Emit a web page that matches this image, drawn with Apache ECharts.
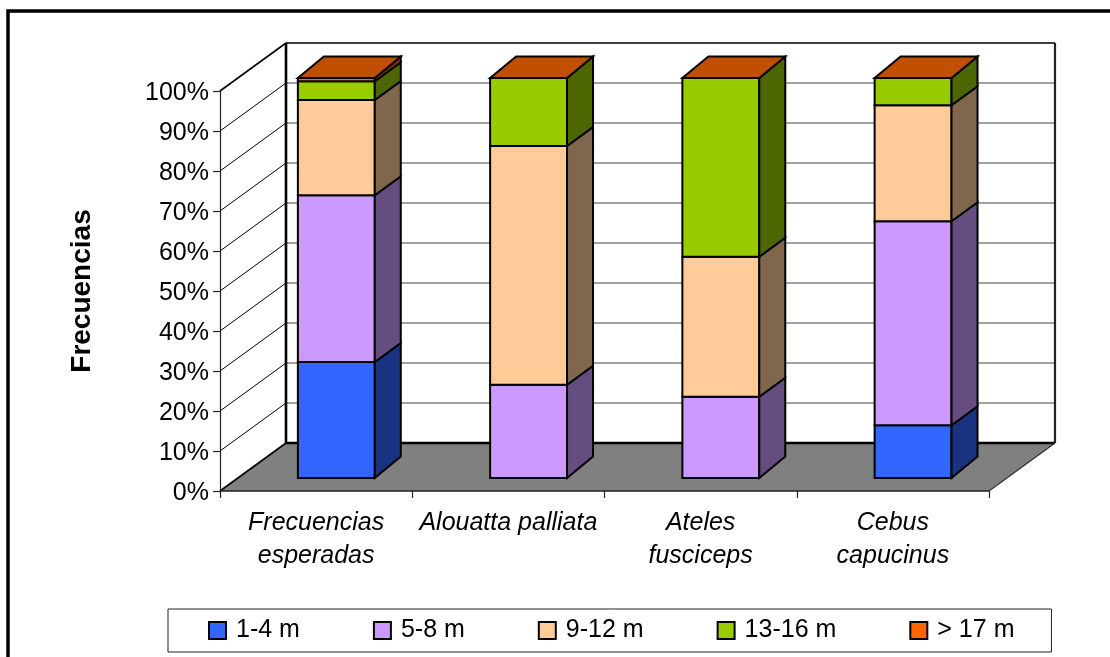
<!DOCTYPE html>
<html>
<head>
<meta charset="utf-8">
<style>html,body{margin:0;padding:0;background:#fff;overflow:hidden}#c{width:1110px;height:657px}</style>
<script src="https://cdn.jsdelivr.net/npm/echarts@6/dist/echarts.min.js"></script>
</head>
<body>
<div id="c"></div>
<script>
var categories = ['Frecuencias\nesperadas', 'Alouatta palliata', 'Ateles\nfusciceps', 'Cebus\ncapucinus'];
var yTicks = [0, 10, 20, 30, 40, 50, 60, 70, 80, 90, 100];
var seriesNames = ['1-4 m', '5-8 m', '9-12 m', '13-16 m', '> 17 m'];
var s1to4 = [29, 0, 0, 13.2];
var s5to8 = [41.7, 23.3, 20.3, 51];
var s9to12 = [23.8, 59.7, 35, 29];
var s13to16 = [4.7, 17, 44.7, 6.8];
var s17plus = [0.8, 0, 0, 0];
var frontColors = ['#3366FF', '#CC99FF', '#FFCC99', '#99CC00', '#FF6600'];
var sideColors = ['#1A3380', '#664D80', '#80664D', '#4D6600', '#803300'];
var topColor = '#C05000';

var WALL = [66, -48], BAR = [20.2, -13], DEPTH_X = 26, DEPTH_OUTER = -21.5, DEPTH_INNER = -19;
var allValues = [s1to4, s5to8, s9to12, s13to16, s17plus];

function poly(points, fill, stroke, lw) {
  return { type: 'polygon', shape: { points: points },
    style: { fill: fill, stroke: stroke || '#000', lineWidth: lw == null ? 2 : lw, lineJoin: 'miter' } };
}
function line(a, b, color, lw) {
  return { type: 'line', shape: { x1: a[0], y1: a[1], x2: b[0], y2: b[1] },
    style: { stroke: color, lineWidth: lw, fill: null } };
}
function shift(p, d) { return [p[0] + d[0], p[1] + d[1]]; }

function renderWalls(params, api) {
  var v = api.value(0);
  var band = api.size([1, 0])[0];
  var L = api.coord([0, v]); L = [L[0] - band / 2, L[1]];
  var R = api.coord([categories.length - 1, v]); R = [R[0] + band / 2, R[1]];
  var kids = [];
  var bl = shift(L, WALL), br = shift(R, WALL);
  if (v === 0) {
    kids.push(poly([L, R, br, bl], '#808080', 'none', 0));
    kids.push(line(bl, br, '#000', 2.6));
    kids.push(line(L, bl, '#000', 1.6));
    kids.push(line(R, br, '#333', 1.2));
    kids.push(line(L, R, '#222', 1.6));
  } else {
    kids.push(line(bl, br, v === 100 ? '#000' : '#444', v === 100 ? 1.4 : 1.1));
    kids.push(line(L, bl, '#000', v === 100 ? 1.6 : 1));
  }
  if (v === 100) {
    var z = api.coord([0, 0]); var zr = api.coord([categories.length - 1, 0]);
    kids.push(line(bl, shift([z[0] - band / 2, z[1]], WALL), '#000', 2.6));
    kids.push(line(br, shift([zr[0] + band / 2, zr[1]], WALL), '#222', 2.2));
  }
  return { type: 'group', children: kids };
}

function renderSeg(idx) {
  return function (params, api) {
    var c = api.value(0);
    var base = api.value(1), top = api.value(2);
    var p0 = api.coord([c, base]);
    var p1 = api.coord([c, top]);
    var w = api.size([1, 0])[0] * 0.4;
    var xl = p0[0] + BAR[0] - w / 2, xr = xl + w;
    var yb = p0[1] + BAR[1], yt = p1[1] + BAR[1];
    var a = [xl, yb], b = [xr, yb], d = [xl, yt], e = [xr, yt];
    var dyB = base <= 0 ? DEPTH_OUTER : DEPTH_INNER;
    var dyT = top >= 99.9 ? DEPTH_OUTER : DEPTH_INNER;
    var kids = [];
    if (top - base > 0) {
      kids.push(poly([a, b, e, d], frontColors[idx]));
      kids.push(poly([b, shift(b, [DEPTH_X, dyB]), shift(e, [DEPTH_X, dyT]), e], sideColors[idx]));
    }
    if (idx === frontColors.length - 1) {
      kids.push(poly([d, e, shift(e, [DEPTH_X, DEPTH_OUTER]), shift(d, [DEPTH_X, DEPTH_OUTER])], topColor));
    }
    return { type: 'group', children: kids };
  };
}

var series = [{
  type: 'custom', name: 'walls', silent: true, z: 1, clip: false,
  renderItem: renderWalls, encode: { y: 0 },
  data: yTicks.map(function (t) { return [t]; })
}];
var running = categories.map(function () { return 0; });
allValues.forEach(function (vals, idx) {
  series.push({
    type: 'custom', name: seriesNames[idx], z: 2, clip: false,
    renderItem: renderSeg(idx),
    itemStyle: { color: frontColors[idx], borderColor: '#000', borderWidth: 1.5 },
    encode: { x: 0, y: [1, 2] },
    data: vals.map(function (v, c) {
      var base = running[c]; running[c] = base + v;
      return [c, base, running[c]];
    })
  });
});

var chart = echarts.init(document.getElementById('c'), null, { renderer: 'canvas' });
chart.setOption({
  animation: false,
  backgroundColor: '#fff',
  textStyle: { fontFamily: 'Liberation Sans' },
  grid: { left: 220, top: 91, width: 769, height: 400, containLabel: false },
  graphic: [{
    type: 'rect', silent: true, z: -1,
    shape: { x: 8, y: 11, width: 1300, height: 900 },
    style: { fill: 'none', stroke: '#000', lineWidth: 3.5 }
  }],
  legend: {
    data: seriesNames, left: 168, top: 609, orient: 'horizontal',
    padding: [9, 37, 9, 40], itemGap: 73, itemWidth: 17, itemHeight: 17,
    icon: 'rect', borderColor: '#222', borderWidth: 1, selectedMode: false,
    textStyle: { fontSize: 25, color: '#000', fontFamily: 'Liberation Sans', padding: [0, 0, 0, 5] }
  },
  xAxis: {
    type: 'category', data: categories, z: 3,
    boundaryGap: true,
    axisLine: { show: false },
    axisTick: { show: true, length: 7, alignWithLabel: false, lineStyle: { color: '#222', width: 1.2 } },
    axisLabel: { fontSize: 25, fontStyle: 'italic', color: '#000', margin: 16, lineHeight: 33, interval: 0, fontFamily: 'Liberation Sans' }
  },
  yAxis: {
    type: 'value', min: 0, max: 100, interval: 10, z: 3,
    name: 'Frecuencias', nameLocation: 'middle', nameGap: 124, nameRotate: 90,
    nameTextStyle: { fontSize: 28, fontWeight: 'bold', color: '#000', fontFamily: 'Liberation Sans' },
    splitLine: { show: false },
    axisLine: { show: true, lineStyle: { color: '#222', width: 1.2 } },
    axisTick: { show: true, length: 7, lineStyle: { color: '#222', width: 1.2 } },
    axisLabel: { formatter: '{value}%', fontSize: 25, color: '#000', margin: 11, verticalAlign: 'top', lineHeight: 4, fontFamily: 'Liberation Sans' }
  },
  series: series
});
</script>
</body>
</html>
